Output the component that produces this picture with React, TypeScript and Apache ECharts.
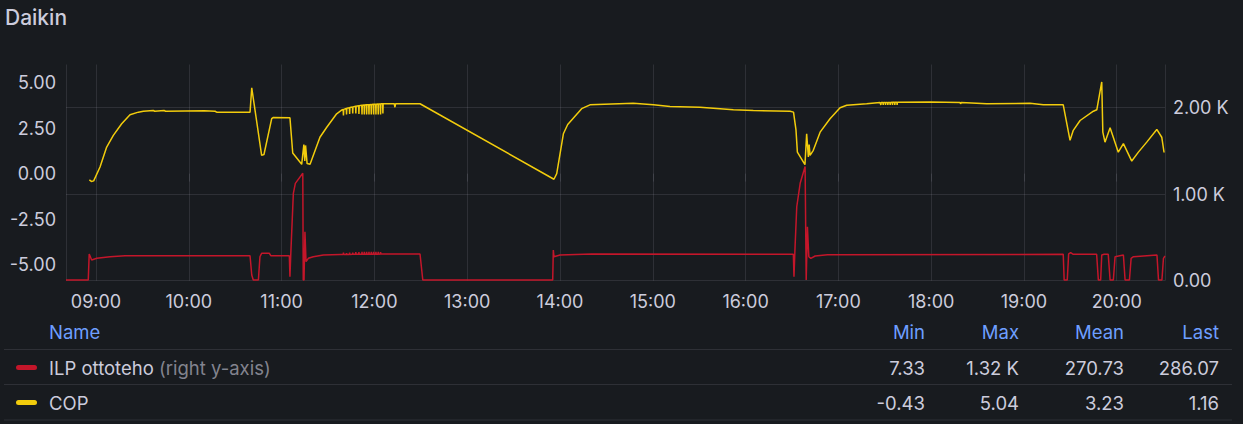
import React, { useEffect, useRef } from "react";
import * as echarts from "echarts";

const TITLE = "Daikin";
const X_MIN = "08:40:36";
const X_MAX = "20:31:12";

const copTimes = [
  "08:55:42", "08:57:00", "08:58:30", "09:02:36", "09:06:54", "09:11:12", "09:16:36", "09:22:00",
  "09:27:24", "09:30:36", "09:37:00", "09:38:00", "09:44:00", "09:45:00", "10:10:00", "10:17:00",
  "10:18:00", "10:39:36", "10:40:42", "10:47:06", "10:48:36", "10:53:36", "10:54:30", "11:05:24",
  "11:07:12", "11:13:00", "11:14:24", "11:15:00", "11:15:30", "11:16:30", "11:18:24", "11:24:48",
  "11:29:12", "11:35:36", "11:39:00",
  "11:39:50", "11:40:00", "11:40:10", "11:41:50", "11:42:00", "11:42:10",
  "11:43:50", "11:44:00", "11:44:10", "11:45:50", "11:46:00", "11:46:10",
  "11:47:50", "11:48:00", "11:48:10", "11:49:50", "11:50:00", "11:50:10",
  "11:51:50", "11:52:00", "11:52:10", "11:53:20", "11:53:30", "11:53:40",
  "11:54:50", "11:55:00", "11:55:10", "11:56:20", "11:56:30", "11:56:40",
  "11:57:50", "11:58:00", "11:58:10", "11:59:20", "11:59:30", "11:59:40",
  "12:00:50", "12:01:00", "12:01:10", "12:02:20", "12:02:30", "12:02:40",
  "12:03:50", "12:04:00", "12:04:10", "12:05:20", "12:05:30", "12:05:40",
  "12:12:50", "12:13:18", "12:13:40", "12:29:30",
  "13:56:06", "13:57:54", "14:02:12", "14:05:00", "14:14:00", "14:19:24", "14:47:24", "15:00:24",
  "15:11:06", "15:30:30", "15:43:30", "15:52:06", "16:05:00", "16:28:48", "16:31:00", "16:32:36",
  "16:33:30", "16:38:24", "16:39:30", "16:40:36", "16:41:06", "16:41:42", "16:43:48", "16:48:12",
  "16:54:36", "17:01:06", "17:05:24", "17:18:18", "17:26:54",
  "17:27:20", "17:27:30", "17:27:40", "17:28:50", "17:29:00", "17:29:10",
  "17:30:20", "17:30:30", "17:30:40", "17:31:50", "17:32:00", "17:32:10",
  "17:33:20", "17:33:30", "17:33:40", "17:34:50", "17:35:00", "17:35:10",
  "17:36:20", "17:36:30", "17:36:40", "17:37:50", "17:38:00", "17:38:10",
  "17:59:18", "18:18:42", "18:19:00", "18:19:30", "18:35:54", "19:03:54", "19:12:30",
  "19:25:24", "19:29:48", "19:31:54", "19:36:18", "19:44:54", "19:47:06", "19:50:18", "19:51:00",
  "19:52:24", "19:55:42", "20:01:00", "20:04:18", "20:09:42", "20:14:00", "20:19:24", "20:25:54",
  "20:29:06", "20:30:36",
];
const copValues = [
  -0.35, -0.43, -0.40, 0.36, 1.46, 2.10, 2.74, 3.24,
  3.38, 3.43, 3.47, 3.43, 3.47, 3.43, 3.45, 3.43,
  3.38, 3.38, 4.72, 1.00, 1.05, 3.02, 3.08, 3.07,
  1.13, 0.51, 1.60, 0.70, 1.55, 0.55, 0.51, 2.00,
  2.55, 3.29, 3.50,
  3.52, 3.20, 3.53, 3.58, 3.25, 3.59,
  3.62, 3.28, 3.63, 3.66, 3.30, 3.67,
  3.70, 3.30, 3.70, 3.73, 3.28, 3.73,
  3.76, 3.25, 3.76, 3.77, 3.25, 3.77,
  3.78, 3.25, 3.78, 3.79, 3.25, 3.79,
  3.80, 3.25, 3.80, 3.81, 3.25, 3.81,
  3.82, 3.25, 3.82, 3.83, 3.25, 3.83,
  3.83, 3.25, 3.84, 3.84, 3.30, 3.84,
  3.84, 3.65, 3.84, 3.84,
  -0.31, 0.00, 2.19, 2.70, 3.57, 3.78, 3.87, 3.78,
  3.69, 3.65, 3.57, 3.51, 3.47, 3.43, 3.38, 2.40,
  1.18, 0.49, 2.19, 0.91, 1.60, 1.00, 1.28, 2.28,
  3.02, 3.62, 3.76, 3.84, 3.91,
  3.91, 3.78, 3.91, 3.91, 3.78, 3.91,
  3.91, 3.78, 3.91, 3.91, 3.78, 3.91,
  3.91, 3.78, 3.91, 3.92, 3.78, 3.92,
  3.92, 3.78, 3.92, 3.93, 3.78, 3.93,
  3.94, 3.91, 3.84, 3.91, 3.84, 3.87, 3.78,
  3.78, 1.83, 2.38, 2.92, 3.43, 3.51, 5.04, 2.28,
  1.73, 2.52, 1.18, 1.65, 0.69, 1.18, 1.73, 2.43,
  2.00, 1.16,
];

const powerTimes = [
  "08:40:36", "08:55:00", "08:55:36", "08:57:12", "09:00:30", "09:09:06", "09:18:48", "10:39:36",
  "10:40:42", "10:41:42", "10:45:00", "10:46:00", "10:47:06", "10:52:06", "10:53:00", "11:05:00",
  "11:05:24", "11:05:54", "11:07:36", "11:08:54", "11:13:42", "11:14:00", "11:14:30", "11:15:06",
  "11:15:48", "11:17:18", "11:20:30", "11:27:00", "11:38:00",
  "11:39:50", "11:40:00", "11:40:10", "11:41:50", "11:42:00", "11:42:10",
  "11:43:50", "11:44:00", "11:44:10", "11:45:50", "11:46:00", "11:46:10",
  "11:47:50", "11:48:00", "11:48:10", "11:49:50", "11:50:00", "11:50:10",
  "11:51:50", "11:52:00", "11:52:10", "11:53:20", "11:53:30", "11:53:40",
  "11:54:50", "11:55:00", "11:55:10", "11:56:20", "11:56:30", "11:56:40",
  "11:57:50", "11:58:00", "11:58:10", "11:59:20", "11:59:30", "11:59:40",
  "12:00:50", "12:01:00", "12:01:10", "12:02:20", "12:02:30", "12:02:40",
  "12:03:50", "12:04:00", "12:04:10",
  "12:29:30", "12:31:18", "13:55:18", "13:55:42", "13:56:06",
  "14:00:00", "14:20:30", "16:30:54", "16:31:18", "16:32:00", "16:33:06", "16:35:18", "16:38:30",
  "16:39:12", "16:40:00", "16:40:54", "16:42:12", "16:45:00", "16:53:00", "19:25:24", "19:26:00",
  "19:28:00", "19:28:54", "19:30:12", "19:31:54", "19:47:00", "19:48:06", "19:49:36", "19:50:18",
  "19:51:48", "19:54:30", "19:55:42", "19:57:48", "19:58:54", "20:04:18", "20:05:24", "20:08:12",
  "20:09:18", "20:10:48", "20:26:00", "20:27:00", "20:29:12", "20:30:12", "20:31:12",
];
const powerValues = [
  8, 8, 309, 239, 259, 277, 289, 289,
  66, 8, 8, 277, 316, 316, 289, 289,
  46, 289, 1010, 1126, 1242, 8, 9, 566,
  220, 259, 277, 297, 303,
  303, 325, 303, 303, 320, 303,
  303, 325, 303, 305, 325, 305,
  305, 330, 305, 305, 330, 305,
  305, 335, 305, 305, 335, 305,
  305, 335, 305, 305, 335, 305,
  307, 335, 307, 307, 335, 307,
  307, 335, 307, 307, 335, 307,
  309, 330, 309,
  309, 8, 8, 355, 277,
  297, 309, 305, 46, 393, 855, 1126, 1320,
  7.33, 624, 277, 259, 286, 300, 305, 8,
  8, 309, 324, 305, 305, 8, 8, 297,
  305, 305, 8, 8, 277, 297, 8, 8,
  259, 277, 297, 8, 8, 259, 286,
];

const leftTicks = [-5, -2.5, 0, 2.5, 5];
const rightTicks = [0, 1000, 2000];

const seriesNames = ["ILP ottoteho", "COP"];
const seriesSuffix = ["(right y-axis)", ""];
const seriesColors = ["#C4162A", "#F2CC0C"];
const statHeaders = ["Min", "Max", "Mean", "Last"];
const powerStats = ["7.33", "1.32 K", "270.73", "286.07"];
const copStats = ["-0.43", "5.04", "3.23", "1.16"];

const FONT = "Inter, 'Noto Sans', sans-serif";
const TEXT = "#ccccdc";
const GRID = "rgba(204,204,220,0.12)";
const BLUE = "#6e9fff";
const LEG = 18.5;

function toTs(s: string): number {
  const [h, m, sec] = s.split(":").map(Number);
  return new Date(2024, 0, 15, h, m, sec || 0).getTime();
}
const pad = (n: number) => (n < 10 ? "0" + n : "" + n);

export default function App() {
  const ref = useRef<HTMLDivElement>(null);
  useEffect(() => {
    if (!ref.current) return;
    const chart = echarts.init(ref.current, null, { renderer: "svg" });
    const statX = [925, 1019, 1124, 1219];
    const rowY = [367.5, 402.5];
    const statRows = [powerStats, copStats];
    const graphics: any[] = [
      {
        type: "text", x: 5, y: 17,
        style: { text: TITLE, fill: TEXT, fontSize: 21, fontWeight: 500, fontFamily: FONT, verticalAlign: "middle" },
      },
      {
        type: "text", x: 49, y: 331.5,
        style: { text: "Name", fill: BLUE, fontSize: LEG, fontFamily: FONT, verticalAlign: "middle" },
      },
    ];
    statHeaders.forEach((h, i) => {
      graphics.push({
        type: "text", x: statX[i], y: 331.5,
        style: { text: h, fill: BLUE, fontSize: LEG, fontFamily: FONT, align: "right", verticalAlign: "middle" },
      });
    });
    [349.5, 384.5, 420].forEach((y) => {
      graphics.push({
        type: "line", shape: { x1: 4, y1: y, x2: 1232, y2: y },
        style: { stroke: GRID, lineWidth: 1 },
      });
    });
    seriesNames.forEach((name, r) => {
      graphics.push({
        type: "rect", shape: { x: 16, y: rowY[r] - 2.5, width: 21, height: 5, r: 2.5 },
        style: { fill: seriesColors[r] },
      });
      graphics.push({
        type: "text", x: 49, y: rowY[r],
        style: {
          text: seriesSuffix[r] ? `{a|${name}} {b|${seriesSuffix[r]}}` : `{a|${name}}`,
          fontSize: LEG, fontFamily: FONT, verticalAlign: "middle", fill: TEXT,
          rich: {
            a: { fill: TEXT, fontSize: LEG, fontFamily: FONT },
            b: { fill: "rgba(204,204,220,0.6)", fontSize: LEG, fontFamily: FONT },
          },
        },
      });
      statRows[r].forEach((v, i) => {
        graphics.push({
          type: "text", x: statX[i], y: rowY[r],
          style: { text: v, fill: TEXT, fontSize: LEG, fontFamily: FONT, align: "right", verticalAlign: "middle" },
        });
      });
    });

    const option: any = {
      animation: false,
      backgroundColor: "#181b1f",
      textStyle: { fontFamily: FONT },
      grid: { left: 66, right: 78, top: 64.5, bottom: 143.3, containLabel: false },
      xAxis: {
        type: "time",
        min: toTs(X_MIN),
        max: toTs(X_MAX),
        minInterval: 3600 * 1000,
        maxInterval: 3600 * 1000,
        axisLine: { show: false },
        axisTick: { show: true, length: 8, lineStyle: { color: GRID } },
        splitLine: { show: true, lineStyle: { color: GRID, width: 1 } },
        axisLabel: {
          color: TEXT, fontSize: 18, fontFamily: FONT, margin: 12,
          formatter: (v: number) => {
            const d = new Date(v);
            return pad(d.getHours()) + ":" + pad(d.getMinutes());
          },
        },
      },
      yAxis: [
        {
          type: "value", position: "left", min: -5.89, max: 6.0,
          axisLine: { show: false }, splitLine: { show: false },
          axisTick: { show: false, customValues: leftTicks },
          axisLabel: {
            customValues: leftTicks, color: TEXT, fontSize: 18, fontFamily: FONT, margin: 10,
            formatter: (v: number) => v.toFixed(2),
          },
        },
        {
          type: "value", position: "right", min: 0, max: 2500,
          axisLine: { show: false },
          splitLine: { show: true, lineStyle: { color: GRID, width: 1 } },
          axisTick: { show: false, customValues: rightTicks },
          axisLabel: {
            customValues: rightTicks, color: TEXT, fontSize: 18, fontFamily: FONT, margin: 8,
            formatter: (v: number) => (v === 0 ? "0.00" : (v / 1000).toFixed(2) + " K"),
          },
        },
      ],
      series: [
        {
          name: seriesNames[0], type: "line", yAxisIndex: 1, showSymbol: false,
          lineStyle: { color: seriesColors[0], width: 1.5 }, itemStyle: { color: seriesColors[0] },
          data: powerTimes.map((t, i) => [toTs(t), powerValues[i]]),
        },
        {
          name: seriesNames[1], type: "line", yAxisIndex: 0, showSymbol: false,
          lineStyle: { color: seriesColors[1], width: 1.5 }, itemStyle: { color: seriesColors[1] },
          data: copTimes.map((t, i) => [toTs(t), copValues[i]]),
        },
      ],
      graphic: { elements: graphics },
    };
    chart.setOption(option);
    return () => chart.dispose();
  }, []);
  return (
    <div
      ref={ref}
      style={{ position: "fixed", left: 0, top: 0, width: 1243, height: 424, background: "#181b1f" }}
    />
  );
}
